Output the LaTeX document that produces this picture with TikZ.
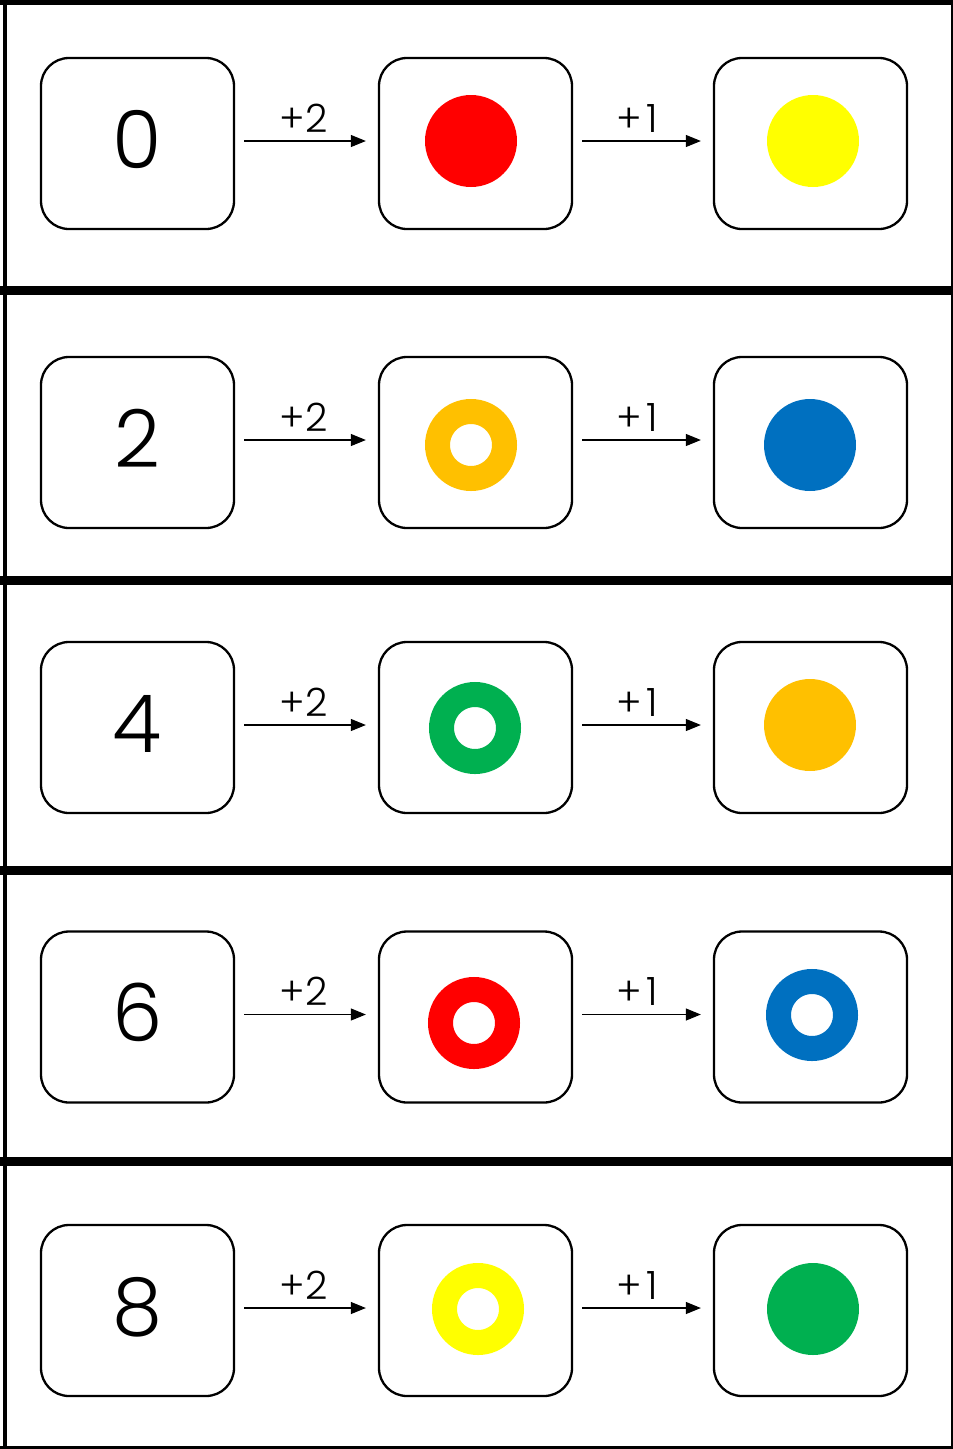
\documentclass[tikz,border=0pt]{standalone}
\usepackage{fontspec}
\setmainfont{Poppins}[UprightFont=* Light]
\usetikzlibrary{arrows.meta}
\definecolor{cred}{HTML}{FF0000}
\definecolor{cyel}{HTML}{FFFF00}
\definecolor{corg}{HTML}{FFC000}
\definecolor{cblu}{HTML}{0070C0}
\definecolor{cgrn}{HTML}{00B050}
\newcommand{\plusone}{+\kern5pt1}
\tikzset{
  card/.style={draw=black, line width=2.3pt, rounded corners=28pt, minimum width=193pt, minimum height=171pt, inner sep=0pt},
  dot/.style={circle, fill=#1, minimum size=92pt, inner sep=0pt},
  ring/.style={circle, draw=#1, line width=25pt, minimum size=67pt, inner sep=0pt},
  num/.style={font=\fontsize{80}{80}\selectfont, anchor=base, inner sep=0pt},
  lbl/.style={font=\fontsize{39}{39}\selectfont, anchor=base, inner sep=0pt},
  arr/.style={-{Triangle[length=15pt,width=12pt]}, line width=1.1pt, shorten <=9pt, shorten >=12pt},
  sep/.style={line width=9pt}
}
\begin{document}
\begin{tikzpicture}[x=1pt,y=-1pt]
\useasboundingbox (0,0) rectangle (953,1449);
% frame
\draw[line width=5pt] (0,2.5) -- (953,2.5);
\draw[line width=4pt] (5,0) -- (5,1449);
\draw[line width=2.5pt] (951.8,0) -- (951.8,1449);
\draw[line width=2.5pt] (0,1447.5) -- (953,1447.5);
\foreach \y in {290,580,870,1161} \draw[sep] (0,\y) -- (953,\y);

% row 1
\node[card] (b11) at (137.5,143.5) {};
\node[card] (b12) at (475.5,143.5) {};
\node[card] (b13) at (810.5,143.5) {};
\node[num] (n1) at (137.5,168) {0};
\node[dot=cred] (c12) at (471,141) {};
\node[dot=cyel] (c13) at (813,141) {};
\draw[arr] ([yshift=2.5pt]b11.east) -- node[lbl, above=8pt, xshift=-3pt] (l11) {+2} ([yshift=2.5pt]b12.west);
\draw[arr] ([yshift=2.5pt]b12.east) -- node[lbl, above=8pt, xshift=-6pt] (l12) {\plusone} ([yshift=2.5pt]b13.west);

% row 2
\node[card] (b21) at (137.5,442.5) {};
\node[card] (b22) at (475.5,442.5) {};
\node[card] (b23) at (810.5,442.5) {};
\node[num] (n2) at (137.5,467) {2};
\node[ring=corg] (c22) at (471,445) {};
\node[dot=cblu] (c23) at (810,445) {};
\draw[arr] ([yshift=2.5pt]b21.east) -- node[lbl, above=8pt, xshift=-3pt] (l21) {+2} ([yshift=2.5pt]b22.west);
\draw[arr] ([yshift=2.5pt]b22.east) -- node[lbl, above=8pt, xshift=-6pt] (l22) {\plusone} ([yshift=2.5pt]b23.west);

% row 3
\node[card] (b31) at (137.5,727.5) {};
\node[card] (b32) at (475.5,727.5) {};
\node[card] (b33) at (810.5,727.5) {};
\node[num] (n3) at (137.5,752) {4};
\node[ring=cgrn] (c32) at (475,728) {};
\node[dot=corg] (c33) at (810,725) {};
\draw[arr] ([yshift=2.5pt]b31.east) -- node[lbl, above=8pt, xshift=-3pt] (l31) {+2} ([yshift=2.5pt]b32.west);
\draw[arr] ([yshift=2.5pt]b32.east) -- node[lbl, above=8pt, xshift=-6pt] (l32) {\plusone} ([yshift=2.5pt]b33.west);

% row 4
\node[card] (b41) at (137.5,1017) {};
\node[card] (b42) at (475.5,1017) {};
\node[card] (b43) at (810.5,1017) {};
\node[num] (n4) at (137.5,1041.5) {6};
\node[ring=cred] (c42) at (474,1023) {};
\node[ring=cblu] (c43) at (812,1015) {};
\draw[arr] ([yshift=2.5pt]b41.east) -- node[lbl, above=8pt, xshift=-3pt] (l41) {+2} ([yshift=2.5pt]b42.west);
\draw[arr] ([yshift=2.5pt]b42.east) -- node[lbl, above=8pt, xshift=-6pt] (l42) {\plusone} ([yshift=2.5pt]b43.west);

% row 5
\node[card] (b51) at (137.5,1310.5) {};
\node[card] (b52) at (475.5,1310.5) {};
\node[card] (b53) at (810.5,1310.5) {};
\node[num] (n5) at (137.5,1335) {8};
\node[ring=cyel] (c52) at (478,1309) {};
\node[dot=cgrn] (c53) at (813,1309) {};
\draw[arr] ([yshift=2.5pt]b51.east) -- node[lbl, above=8pt, xshift=-3pt] (l51) {+2} ([yshift=2.5pt]b52.west);
\draw[arr] ([yshift=2.5pt]b52.east) -- node[lbl, above=8pt, xshift=-6pt] (l52) {\plusone} ([yshift=2.5pt]b53.west);
\end{tikzpicture}
\end{document}
